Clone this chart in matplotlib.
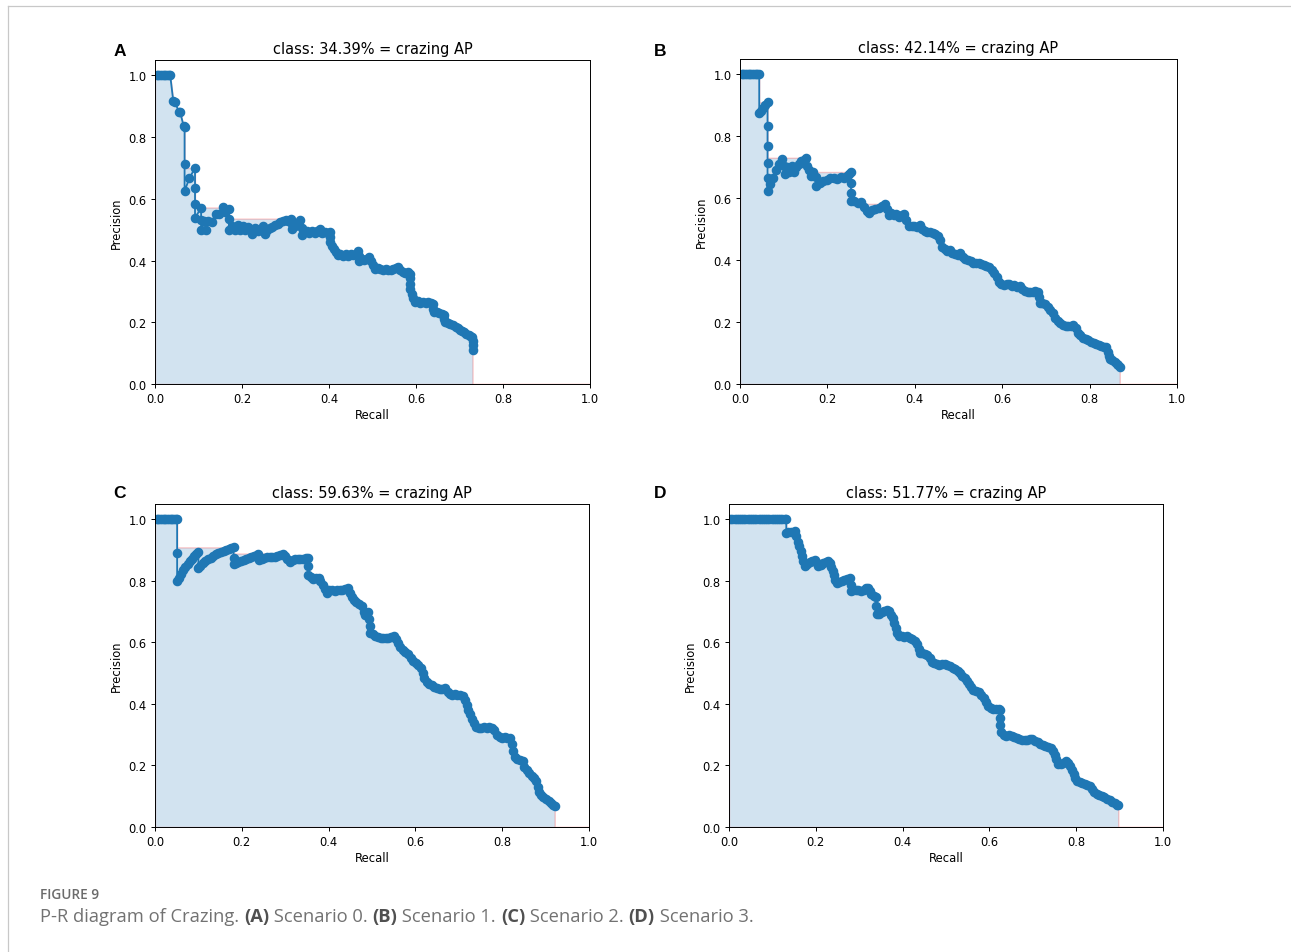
import matplotlib
matplotlib.use("Agg")
import matplotlib.pyplot as plt
from matplotlib.lines import Line2D

W, H = 1291, 953

# ---- panel A: scenario 0 ----
rec_a = [
    0.004, 0.008, 0.012, 0.016, 0.020, 0.024, 0.028, 0.032, 0.035, 0.042,
    0.046, 0.055, 0.058, 0.066, 0.068, 0.068, 0.068, 0.079, 0.092, 0.092,
    0.092, 0.092, 0.106, 0.106, 0.106, 0.113, 0.117, 0.122, 0.130, 0.140,
    0.148, 0.156, 0.162, 0.170, 0.170, 0.170, 0.178, 0.184, 0.190, 0.196,
    0.202, 0.208, 0.214, 0.220, 0.224, 0.230, 0.236, 0.242, 0.248, 0.252,
    0.258, 0.264, 0.270, 0.276, 0.282, 0.288, 0.294, 0.300, 0.306, 0.312,
    0.316, 0.316, 0.322, 0.328, 0.333, 0.337, 0.337, 0.343, 0.349, 0.355,
    0.361, 0.367, 0.373, 0.379, 0.385, 0.391, 0.397, 0.402, 0.402, 0.402,
    0.407, 0.411, 0.415, 0.420, 0.426, 0.432, 0.438, 0.444, 0.450, 0.456,
    0.462, 0.467, 0.469, 0.469, 0.475, 0.481, 0.487, 0.493, 0.497, 0.501,
    0.506, 0.512, 0.518, 0.524, 0.530, 0.536, 0.542, 0.548, 0.554, 0.559,
    0.564, 0.569, 0.575, 0.581, 0.586, 0.586, 0.586, 0.586, 0.590, 0.594,
    0.598, 0.604, 0.610, 0.616, 0.622, 0.628, 0.634, 0.640, 0.640, 0.642,
    0.648, 0.654, 0.660, 0.664, 0.665, 0.667, 0.673, 0.679, 0.685, 0.691,
    0.696, 0.701, 0.706, 0.711, 0.716, 0.721, 0.725, 0.729, 0.730, 0.730,
    0.730,
]
prec_a = [
    1.0, 1.0, 1.0, 1.0, 1.0, 1.0, 1.0, 1.0, 1.0, 0.917,
    0.913, 0.882, 0.880, 0.835, 0.833, 0.714, 0.625, 0.667, 0.700, 0.636,
    0.583, 0.538, 0.571, 0.533, 0.500, 0.529, 0.500, 0.527, 0.526, 0.550,
    0.550, 0.572, 0.556, 0.568, 0.535, 0.500, 0.512, 0.500, 0.515, 0.500,
    0.512, 0.500, 0.510, 0.498, 0.487, 0.505, 0.495, 0.500, 0.512, 0.487,
    0.500, 0.505, 0.510, 0.515, 0.520, 0.524, 0.528, 0.533, 0.527, 0.536,
    0.520, 0.502, 0.512, 0.522, 0.530, 0.505, 0.482, 0.492, 0.497, 0.490,
    0.495, 0.490, 0.497, 0.502, 0.490, 0.493, 0.490, 0.492, 0.475, 0.460,
    0.447, 0.437, 0.428, 0.418, 0.422, 0.415, 0.420, 0.416, 0.420, 0.418,
    0.422, 0.430, 0.415, 0.400, 0.405, 0.402, 0.406, 0.410, 0.398, 0.386,
    0.374, 0.376, 0.372, 0.370, 0.374, 0.371, 0.370, 0.373, 0.376, 0.380,
    0.370, 0.362, 0.360, 0.362, 0.358, 0.342, 0.325, 0.308, 0.292, 0.278,
    0.266, 0.268, 0.264, 0.266, 0.263, 0.266, 0.262, 0.258, 0.243, 0.232,
    0.234, 0.229, 0.226, 0.222, 0.210, 0.200, 0.199, 0.194, 0.190, 0.186,
    0.180, 0.175, 0.171, 0.167, 0.163, 0.159, 0.156, 0.152, 0.140, 0.125,
    0.110,
]

# ---- panel B: scenario 1 ----
rec_b = [
    0.004, 0.008, 0.012, 0.016, 0.020, 0.024, 0.028, 0.032, 0.036, 0.040,
    0.044, 0.044, 0.048, 0.053, 0.058, 0.063, 0.063, 0.063, 0.063, 0.063,
    0.063, 0.068, 0.075, 0.082, 0.090, 0.097, 0.101, 0.103, 0.108, 0.113,
    0.118, 0.123, 0.128, 0.134, 0.140, 0.146, 0.151, 0.153, 0.158, 0.163,
    0.168, 0.173, 0.175, 0.182, 0.190, 0.198, 0.206, 0.214, 0.222, 0.230,
    0.238, 0.245, 0.250, 0.254, 0.254, 0.254, 0.254, 0.262, 0.270, 0.277,
    0.283, 0.290, 0.296, 0.303, 0.310, 0.317, 0.324, 0.331, 0.336, 0.340,
    0.346, 0.352, 0.358, 0.364, 0.370, 0.376, 0.381, 0.387, 0.393, 0.399,
    0.405, 0.411, 0.417, 0.423, 0.429, 0.435, 0.441, 0.447, 0.453, 0.458,
    0.462, 0.468, 0.474, 0.480, 0.486, 0.492, 0.498, 0.504, 0.510, 0.516,
    0.522, 0.528, 0.534, 0.540, 0.546, 0.552, 0.558, 0.564, 0.570, 0.576,
    0.582, 0.588, 0.593, 0.598, 0.604, 0.610, 0.616, 0.622, 0.628, 0.634,
    0.640, 0.646, 0.652, 0.658, 0.664, 0.670, 0.676, 0.681, 0.684, 0.686,
    0.692, 0.698, 0.704, 0.710, 0.716, 0.721, 0.727, 0.733, 0.739, 0.745,
    0.751, 0.757, 0.763, 0.768, 0.773, 0.779, 0.785, 0.791, 0.797, 0.803,
    0.809, 0.815, 0.821, 0.827, 0.833, 0.838, 0.841, 0.844, 0.847, 0.852,
    0.857, 0.862, 0.866, 0.869,
]
prec_b = [
    1.0, 1.0, 1.0, 1.0, 1.0, 1.0, 1.0, 1.0, 1.0, 1.0,
    1.0, 0.875, 0.882, 0.893, 0.902, 0.910, 0.833, 0.770, 0.714, 0.667,
    0.625, 0.645, 0.667, 0.690, 0.712, 0.728, 0.705, 0.680, 0.700, 0.685,
    0.705, 0.685, 0.700, 0.712, 0.720, 0.725, 0.731, 0.705, 0.690, 0.672,
    0.686, 0.668, 0.640, 0.648, 0.655, 0.660, 0.664, 0.666, 0.662, 0.668,
    0.664, 0.672, 0.680, 0.685, 0.650, 0.618, 0.590, 0.592, 0.585, 0.588,
    0.572, 0.560, 0.553, 0.562, 0.567, 0.570, 0.575, 0.582, 0.565, 0.545,
    0.551, 0.545, 0.549, 0.540, 0.545, 0.550, 0.530, 0.512, 0.510, 0.512,
    0.508, 0.515, 0.500, 0.495, 0.490, 0.492, 0.488, 0.485, 0.478, 0.465,
    0.442, 0.436, 0.430, 0.432, 0.424, 0.420, 0.418, 0.422, 0.410, 0.404,
    0.400, 0.396, 0.392, 0.390, 0.392, 0.388, 0.384, 0.380, 0.378, 0.368,
    0.358, 0.345, 0.330, 0.322, 0.320, 0.324, 0.322, 0.318, 0.320, 0.315,
    0.316, 0.308, 0.300, 0.296, 0.298, 0.296, 0.300, 0.298, 0.280, 0.262,
    0.262, 0.258, 0.250, 0.240, 0.228, 0.212, 0.204, 0.198, 0.192, 0.186,
    0.186, 0.187, 0.190, 0.180, 0.165, 0.158, 0.150, 0.145, 0.142, 0.137,
    0.133, 0.130, 0.125, 0.122, 0.120, 0.118, 0.105, 0.092, 0.082, 0.078,
    0.072, 0.066, 0.060, 0.054,
]

# ---- panel C: scenario 2 ----
rec_c = [
    0.004, 0.008, 0.012, 0.016, 0.020, 0.024, 0.028, 0.032, 0.036, 0.040,
    0.044, 0.048, 0.051, 0.051, 0.051, 0.055, 0.060, 0.065, 0.070, 0.075,
    0.080, 0.085, 0.090, 0.095, 0.100, 0.100, 0.104, 0.110, 0.116, 0.122,
    0.128, 0.134, 0.140, 0.146, 0.152, 0.158, 0.164, 0.170, 0.176, 0.181,
    0.181, 0.181, 0.186, 0.192, 0.198, 0.204, 0.210, 0.216, 0.222, 0.228,
    0.234, 0.238, 0.240, 0.246, 0.252, 0.258, 0.264, 0.270, 0.276, 0.282,
    0.288, 0.294, 0.300, 0.305, 0.311, 0.317, 0.323, 0.329, 0.335, 0.341,
    0.347, 0.353, 0.353, 0.353, 0.359, 0.365, 0.371, 0.377, 0.381, 0.386,
    0.391, 0.396, 0.402, 0.408, 0.414, 0.420, 0.426, 0.432, 0.438, 0.444,
    0.449, 0.454, 0.459, 0.464, 0.470, 0.476, 0.481, 0.484, 0.490, 0.494,
    0.495, 0.496, 0.502, 0.508, 0.514, 0.520, 0.526, 0.532, 0.538, 0.544,
    0.550, 0.555, 0.560, 0.565, 0.571, 0.577, 0.583, 0.589, 0.595, 0.601,
    0.607, 0.613, 0.617, 0.620, 0.626, 0.632, 0.638, 0.644, 0.650, 0.656,
    0.662, 0.668, 0.674, 0.679, 0.685, 0.691, 0.697, 0.703, 0.709, 0.714,
    0.718, 0.722, 0.726, 0.731, 0.736, 0.740, 0.746, 0.752, 0.758, 0.764,
    0.770, 0.776, 0.782, 0.788, 0.794, 0.800, 0.806, 0.812, 0.818, 0.823,
    0.826, 0.829, 0.835, 0.841, 0.847, 0.851, 0.856, 0.862, 0.868, 0.874,
    0.879, 0.882, 0.884, 0.889, 0.895, 0.901, 0.907, 0.913, 0.918, 0.921,
]
prec_c = [
    1.0, 1.0, 1.0, 1.0, 1.0, 1.0, 1.0, 1.0, 1.0, 1.0,
    1.0, 1.0, 1.0, 0.891, 0.800, 0.810, 0.822, 0.835, 0.846, 0.855,
    0.864, 0.872, 0.880, 0.888, 0.895, 0.842, 0.850, 0.857, 0.864, 0.870,
    0.876, 0.881, 0.886, 0.890, 0.894, 0.898, 0.901, 0.904, 0.907, 0.909,
    0.875, 0.854, 0.858, 0.862, 0.865, 0.868, 0.872, 0.875, 0.878, 0.881,
    0.884, 0.886, 0.868, 0.872, 0.875, 0.877, 0.878, 0.877, 0.878, 0.880,
    0.883, 0.889, 0.882, 0.872, 0.862, 0.867, 0.870, 0.871, 0.872, 0.870,
    0.873, 0.876, 0.848, 0.818, 0.812, 0.805, 0.808, 0.811, 0.800, 0.788,
    0.775, 0.762, 0.770, 0.772, 0.768, 0.770, 0.772, 0.770, 0.775, 0.778,
    0.762, 0.748, 0.738, 0.730, 0.725, 0.718, 0.698, 0.690, 0.698, 0.675,
    0.655, 0.632, 0.628, 0.622, 0.618, 0.615, 0.614, 0.616, 0.615, 0.618,
    0.620, 0.610, 0.598, 0.584, 0.575, 0.570, 0.562, 0.550, 0.540, 0.534,
    0.527, 0.518, 0.500, 0.485, 0.472, 0.465, 0.460, 0.455, 0.452, 0.448,
    0.450, 0.451, 0.440, 0.432, 0.428, 0.432, 0.430, 0.430, 0.425, 0.412,
    0.395, 0.380, 0.366, 0.352, 0.338, 0.325, 0.322, 0.322, 0.324, 0.322,
    0.326, 0.322, 0.314, 0.300, 0.292, 0.290, 0.292, 0.290, 0.290, 0.270,
    0.248, 0.228, 0.222, 0.218, 0.214, 0.195, 0.184, 0.174, 0.165, 0.158,
    0.148, 0.130, 0.114, 0.105, 0.098, 0.092, 0.086, 0.078, 0.072, 0.068,
]

# ---- panel D: scenario 3 ----
rec_d = [
    0.003, 0.008, 0.013, 0.018, 0.023, 0.028, 0.033, 0.038, 0.043, 0.048,
    0.053, 0.058, 0.063, 0.068, 0.073, 0.078, 0.083, 0.088, 0.093, 0.098,
    0.103, 0.108, 0.113, 0.118, 0.123, 0.128, 0.132, 0.132, 0.137, 0.144,
    0.151, 0.155, 0.158, 0.162, 0.165, 0.168, 0.170, 0.174, 0.180, 0.186,
    0.192, 0.198, 0.202, 0.205, 0.211, 0.217, 0.223, 0.229, 0.233, 0.236,
    0.239, 0.242, 0.245, 0.248, 0.254, 0.260, 0.266, 0.272, 0.278, 0.280,
    0.280, 0.286, 0.292, 0.298, 0.304, 0.310, 0.316, 0.320, 0.324, 0.328,
    0.334, 0.339, 0.339, 0.340, 0.346, 0.352, 0.358, 0.364, 0.368, 0.373,
    0.377, 0.381, 0.384, 0.386, 0.392, 0.398, 0.404, 0.410, 0.416, 0.422,
    0.428, 0.434, 0.437, 0.439, 0.445, 0.451, 0.457, 0.462, 0.467, 0.473,
    0.479, 0.485, 0.491, 0.497, 0.503, 0.509, 0.515, 0.521, 0.527, 0.533,
    0.538, 0.543, 0.548, 0.553, 0.558, 0.563, 0.569, 0.575, 0.581, 0.587,
    0.592, 0.597, 0.603, 0.609, 0.615, 0.621, 0.625, 0.625, 0.625, 0.627,
    0.633, 0.639, 0.645, 0.651, 0.657, 0.663, 0.669, 0.675, 0.681, 0.687,
    0.693, 0.699, 0.705, 0.711, 0.717, 0.723, 0.729, 0.735, 0.741, 0.746,
    0.750, 0.754, 0.758, 0.764, 0.770, 0.776, 0.781, 0.786, 0.791, 0.795,
    0.798, 0.802, 0.808, 0.814, 0.820, 0.826, 0.832, 0.836, 0.841, 0.847,
    0.853, 0.859, 0.865, 0.871, 0.877, 0.883, 0.889, 0.894, 0.897,
]
prec_d = [
    1.0, 1.0, 1.0, 1.0, 1.0, 1.0, 1.0, 1.0, 1.0, 1.0,
    1.0, 1.0, 1.0, 1.0, 1.0, 1.0, 1.0, 1.0, 1.0, 1.0,
    1.0, 1.0, 1.0, 1.0, 1.0, 1.0, 1.0, 0.956, 0.958, 0.960,
    0.962, 0.945, 0.928, 0.912, 0.896, 0.880, 0.865, 0.850, 0.855, 0.860,
    0.864, 0.868, 0.858, 0.848, 0.852, 0.858, 0.862, 0.866, 0.858, 0.846,
    0.832, 0.818, 0.804, 0.792, 0.796, 0.800, 0.804, 0.806, 0.808, 0.788,
    0.768, 0.772, 0.770, 0.772, 0.768, 0.772, 0.776, 0.778, 0.766, 0.756,
    0.752, 0.748, 0.720, 0.692, 0.694, 0.698, 0.702, 0.706, 0.702, 0.690,
    0.678, 0.664, 0.648, 0.632, 0.622, 0.620, 0.618, 0.621, 0.614, 0.610,
    0.604, 0.594, 0.580, 0.567, 0.565, 0.562, 0.560, 0.550, 0.538, 0.532,
    0.529, 0.528, 0.529, 0.529, 0.526, 0.522, 0.518, 0.514, 0.508, 0.500,
    0.492, 0.484, 0.476, 0.466, 0.454, 0.446, 0.442, 0.438, 0.430, 0.418,
    0.406, 0.394, 0.386, 0.383, 0.382, 0.384, 0.380, 0.355, 0.330, 0.308,
    0.300, 0.297, 0.298, 0.297, 0.294, 0.290, 0.285, 0.284, 0.284, 0.284,
    0.285, 0.286, 0.280, 0.275, 0.270, 0.265, 0.262, 0.260, 0.256, 0.248,
    0.235, 0.220, 0.206, 0.206, 0.208, 0.214, 0.208, 0.198, 0.185, 0.172,
    0.158, 0.150, 0.146, 0.143, 0.141, 0.138, 0.133, 0.124, 0.115, 0.108,
    0.104, 0.100, 0.096, 0.092, 0.087, 0.082, 0.077, 0.073, 0.070,
]

ap_values = ["34.39%", "42.14%", "59.63%", "51.77%"]
panel_letters = ["A", "B", "C", "D"]


def area_under_curve(rec, prec):
    # same envelope trick the mAP script uses for the shaded area
    mrec = [0.0] + list(rec) + [1.0]
    mpre = [0.0] + list(prec) + [0.0]
    for i in range(len(mpre) - 2, -1, -1):
        mpre[i] = max(mpre[i], mpre[i + 1])
    xs = mrec[:-1] + [mrec[-2]] + [mrec[-1]]
    ys = mpre[:-1] + [0.0] + [mpre[-1]]
    return xs, ys


def px_box(left, top, right, bottom):
    return [left / W, 1 - bottom / H, (right - left) / W, (bottom - top) / H]


fig = plt.figure(figsize=(W / 100, H / 100), dpi=100)
fig.patch.set_facecolor("white")

boxes = [
    px_box(155, 61, 590, 385),
    px_box(740, 60, 1177, 385),
    px_box(155, 505, 589, 828),
    px_box(729, 505, 1163, 828),
]
letter_pos = [(120, 52), (660, 52), (119, 493), (660, 493)]
series = [(rec_a, prec_a), (rec_b, prec_b), (rec_c, prec_c), (rec_d, prec_d)]

for box, (rec, prec), ap, letter, (lx, ly) in zip(
        boxes, series, ap_values, panel_letters, letter_pos):
    ax = fig.add_axes(box)
    ax.plot(rec, prec, "-o", color="#1f77b4", markersize=5.9, linewidth=1.3)
    xs, ys = area_under_curve(rec, prec)
    ax.fill_between(xs, 0, ys, alpha=0.2, edgecolor="r", linewidth=1.0)
    ax.set_xlim(0.0, 1.0)
    ax.set_ylim(0.0, 1.05)
    ax.set_title("class: " + ap + " = crazing AP", fontsize=10.5, pad=5)
    ax.set_xlabel("Recall", fontsize=8.3, labelpad=2)
    ax.set_ylabel("Precision", fontsize=8.3, labelpad=4)
    ax.tick_params(labelsize=8.3, length=3, width=0.7, pad=3)
    for s in ax.spines.values():
        s.set_linewidth(0.7)
    fig.text(lx / W, 1 - ly / H, letter, fontsize=12.5, fontweight="bold",
             family="Liberation Sans", ha="center", va="center")

# thin page frame lines at the top and left
fig.add_artist(Line2D([8 / W, 1], [1 - 7 / H, 1 - 7 / H], color="#c8c8c8", lw=0.9))
fig.add_artist(Line2D([8 / W, 8 / W], [0, 1 - 7 / H], color="#c8c8c8", lw=0.9))

# caption
fig.text(40 / W, 1 - 899 / H, "FIGURE 9", fontsize=9.8, color="#6b6b6b",
         family="Open Sans", fontweight="semibold", va="baseline")

renderer = fig.canvas.get_renderer()
caption_parts = [
    ("P-R diagram of Crazing. ", False), ("(A)", True), (" Scenario 0. ", False),
    ("(B)", True), (" Scenario 1. ", False), ("(C)", True), (" Scenario 2. ", False),
    ("(D)", True), (" Scenario 3.", False),
]
x = 40
for txt, bold in caption_parts:
    t = fig.text(x / W, 1 - 922 / H, txt, fontsize=13.2,
                 color="#505050" if bold else "#727272",
                 fontweight="bold" if bold else "normal",
                 family="Open Sans", va="baseline")
    x += t.get_window_extent(renderer=renderer).width

fig.savefig("out.png", dpi=100)
